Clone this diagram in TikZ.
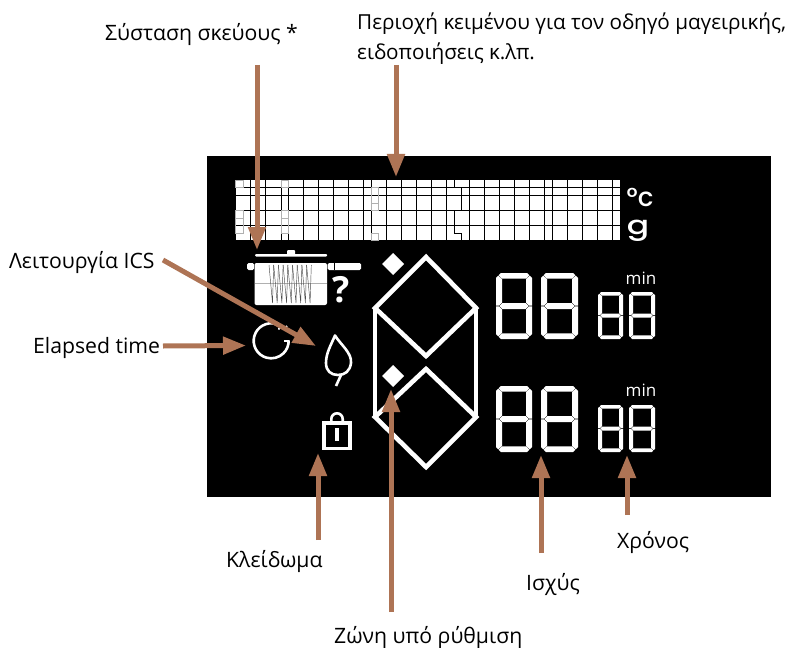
\documentclass[tikz,border=0pt]{standalone}
\usepackage{fontspec}
\setmainfont{Open Sans}
\newfontfamily\lcdfont[BoldFont={Poppins Medium}]{Poppins}
\usepackage{xcolor}
\usepackage{tikz}
\usetikzlibrary{arrows.meta,positioning,calc}
\definecolor{ArrowBrown}{HTML}{AE7455}
\definecolor{GridGray}{HTML}{B0B0B0}
\newcommand{\segdigit}[5]{% x, y, width, height, thickness
  \begin{scope}[shift={(#1,#2)}]
    \pgfmathsetmacro{\dw}{#3}
    \pgfmathsetmacro{\dh}{#4}
    \pgfmathsetmacro{\tk}{#5}
    \pgfmathsetmacro{\dm}{\dh/2}
    \pgfmathsetmacro{\ca}{\tk*.8}
    \pgfmathsetmacro{\cb}{\tk*.4+.2}
    \pgfmathsetmacro{\cc}{\tk*.4-.2}
    \fill[white] (\cb,\cc)--(\ca,0)--(\dw-\ca,0)--(\dw-\cb,\cc)--(\dw-\tk,\tk-.4)--(\tk,\tk-.4)--cycle;
    \fill[white] (\cb,\dh-\cc)--(\ca,\dh)--(\dw-\ca,\dh)--(\dw-\cb,\dh-\cc)--(\dw-\tk,\dh-\tk+.4)--(\tk,\dh-\tk+.4)--cycle;
    \fill[white] (\tk+.3,\dm-\tk/2)--(\dw-\tk-.3,\dm-\tk/2)--(\dw-\tk/2-.4,\dm)--(\dw-\tk-.3,\dm+\tk/2)--(\tk+.3,\dm+\tk/2)--(\tk/2+.4,\dm)--cycle;
    \fill[white] (\cc,\cb)--(0,\ca)--(0,\dm-.4)--(\tk/2,\dm-.4)--(\tk,\dm-\tk/2-.3)--(\tk,\tk)--cycle;
    \fill[white] (\cc,\dh-\cb)--(0,\dh-\ca)--(0,\dm+.4)--(\tk/2,\dm+.4)--(\tk,\dm+\tk/2+.3)--(\tk,\dh-\tk)--cycle;
    \fill[white] (\dw-\cc,\cb)--(\dw,\ca)--(\dw,\dm-.4)--(\dw-\tk/2,\dm-.4)--(\dw-\tk,\dm-\tk/2-.3)--(\dw-\tk,\tk)--cycle;
    \fill[white] (\dw-\cc,\dh-\cb)--(\dw,\dh-\ca)--(\dw,\dm+.4)--(\dw-\tk/2,\dm+.4)--(\dw-\tk,\dm+\tk/2+.3)--(\dw-\tk,\dh-\tk)--cycle;
  \end{scope}
}

\begin{document}
\begin{tikzpicture}[
  x=1pt,y=-1pt,
  label/.style={inner sep=0pt,anchor=west,font=\fontsize{21.2}{30}\selectfont,align=left},
  arrow/.style={-{Triangle[length=23pt,width=17pt]},ArrowBrown,line width=5pt},
  gridline/.style={black,line width=.9pt},
  icon/.style={white,line width=2.6pt},
  diamondline/.style={white,line width=4.6pt,line join=miter}
]
\useasboundingbox (0,0) rectangle (794,647);
\fill[black] (207,156) rectangle (771,497);

% text area
\fill[white] (235.7,180) rectangle (620,240);
\foreach \gx in {250.7,265.7,281,288.3,303.3,318.3,333.3,348.7,363.7,371.3,386.7,401.7,416.7,431.7,446.7,469.3,484.7,499.7,514.7,529.7,544.7,552.3,567.3,582.7,597.7,612.7}
  \draw[gridline] (\gx,180)--(\gx,240);
\foreach \gy in {187.3,195.3,210.7,225.3}
  \draw[gridline] (235.7,\gy)--(620,\gy);
\draw[gridline] (454.3,180)--(454.3,187.3) (461.7,187.3)--(461.7,210.7) (454.3,210.7)--(454.3,233) (461.7,233)--(461.7,240) (454.3,233)--(461.7,233);
\draw[GridGray,line width=.8pt] (235.7,180) rectangle (243,187.3) (235.7,210.7) rectangle (243,233) (235.7,218)--(243,218);
\draw[GridGray,line width=.8pt] (281,180) rectangle (288.3,187.3) (281,210.7) rectangle (288.3,233) (281,218)--(288.3,218);
\draw[GridGray,line width=.8pt] (371.3,187.3) rectangle (378.7,210) (371.3,203)--(378.7,203) (371.3,233) rectangle (378.7,240);

\node[inner sep=0pt,white] (celsius) at (640,197) {\lcdfont\bfseries\fontsize{26}{26}\selectfont °c};
\node[inner sep=0pt,white] (grams) at (638,231) {\scalebox{1}[.78]{\lcdfont\bfseries\fontsize{33}{33}\selectfont g}};

% pot
\fill[white,rounded corners=1pt] (255,254) rectangle (327,256.5);
\fill[white,rounded corners=1pt] (287,250) rectangle (295,255);
\fill[white,rounded corners=1.5pt] (247,263) rectangle (254,270);
\fill[white,rounded corners=2pt] (254.5,263) rectangle (327,305);
\fill[white,rounded corners=1.5pt] (327.5,263) rectangle (361,270);
\draw[black,line width=.5pt] (334,263)--(334,270);
\draw[GridGray,line width=.5pt] (255,283)--(327,283);
\foreach \i in {0,...,8}
  \draw[black!70,line width=.45pt] ({269+4.7*\i},265)--({272.5+4.7*\i},303)--({273.7+4.7*\i},265);
\node[inner sep=0pt,white,font=\fontsize{36}{36}\selectfont\bfseries] (question) at (341,289.5) {?};

% timer, leaf, lock
\draw[icon] (276,324) arc[start angle=-74,end angle=-362,radius=17.5];
\draw[icon,line width=1.6pt] (284,329)--(287,326) (279,328)--(279,329.5) (288.5,341)--(284,341);
\draw[icon,line join=round] (335,335.5) .. controls (341,345) and (352,353) .. (351,363) .. controls (350,371) and (345,375) .. (338,375) .. controls (331,375) and (326,371) .. (326,363) .. controls (326,353) and (331,345) .. (335,335.5) -- cycle;
\draw[icon] (341,375)--(336,386);
\draw[white,line width=3.8pt] (324,423) rectangle (350,448.5);
\draw[white,line width=2.6pt] (331.3,422)--(331.3,419) arc[start angle=180,end angle=360,radius=5.7]--(342.7,422);
\fill[white] (335.3,428) rectangle (339.3,441);

% zone diamonds
\draw[diamondline] (375,308)--(426,257)--(476,308)--(426,356)--cycle;
\draw[diamondline] (375,417)--(426,369)--(476,417)--(426,467)--cycle;
\draw[diamondline] (375,309)--(375,416) (476,309)--(476,416);
\fill[white] (393,253)--(404,264)--(393,275)--(382,264)--cycle;
\fill[white] (393,365)--(404,376)--(393,387)--(382,376)--cycle;

% digits
\foreach \dy in {0,113}{
  \segdigit{496}{273+\dy}{36}{66}{6}
  \segdigit{541}{273+\dy}{37}{66}{6}
  \segdigit{598}{292+\dy}{25}{47}{4}
  \segdigit{629}{292+\dy}{26}{47}{4}
}
\node[inner sep=0pt,white,font=\fontsize{17}{17}\selectfont] (minup) at (641,278) {min};
\node[inner sep=0pt,white,font=\fontsize{17}{17}\selectfont] (mindown) at (641,390) {min};

% labels
\node[label] (cookware) at (105,35) {Σύσταση σκεύους *};
\node[label,font=\fontsize{20.7}{30}\selectfont] (textarea) at (357,39) {Περιοχή κειμένου για τον οδηγό μαγειρικής,\\ειδοποιήσεις κ.λπ.};
\node[label] (ics) at (9,262) {Λειτουργία ICS};
\node[label] (elapsed) at (33,347.5) {Elapsed time};
\node[label] (lock) at (226,561) {Κλείδωμα};
\node[label] (power) at (526,584) {Ισχύς};
\node[label] (timelabel) at (617,542) {Χρόνος};
\node[label] (zone) at (334,637) {Ζώνη υπό ρύθμιση};

% arrows
\coordinate (cookA) at (257,65);
\coordinate (cookB) at (257,250);
\coordinate (textA) at (396,65);
\coordinate (textB) at (396,177);
\coordinate (icsA) at (163,260);
\coordinate (icsB) at (316,346);
\coordinate (elapsedA) at (163,346);
\coordinate (elapsedB) at (246,345.5);
\coordinate (lockA) at (318,540);
\coordinate (lockB) at (318,453);
\coordinate (zoneA) at (391,612);
\coordinate (zoneB) at (391,389);
\coordinate (powerA) at (541,553);
\coordinate (powerB) at (541,455);
\coordinate (timeA) at (627,515);
\coordinate (timeB) at (627,455);
\draw[arrow] (cookA)--(cookB);
\draw[arrow] (textA)--(textB);
\draw[arrow] (icsA)--(icsB);
\draw[arrow] (elapsedA)--(elapsedB);
\draw[arrow] (lockA)--(lockB);
\draw[arrow] (zoneA)--(zoneB);
\draw[arrow] (powerA)--(powerB);
\draw[arrow] (timeA)--(timeB);
\end{tikzpicture}
\end{document}
